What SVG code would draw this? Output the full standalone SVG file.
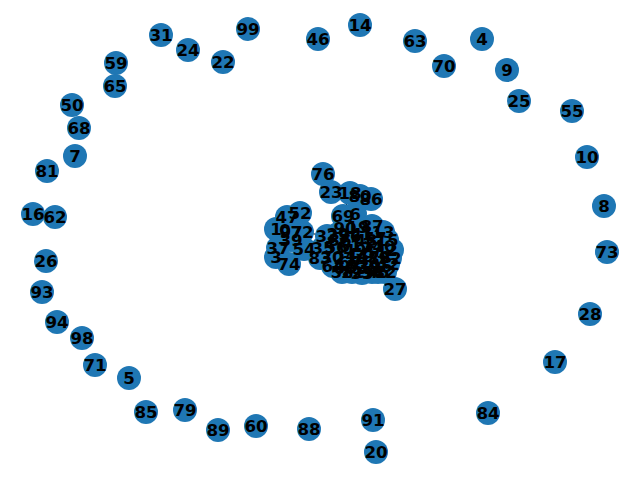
<svg xmlns="http://www.w3.org/2000/svg" width="640" height="478" viewBox="0 0 640 478">
<style>
.n circle{fill:#1f77b4}
.lab text{font-family:"DejaVu Sans",sans-serif;font-weight:bold;font-size:16.67px;fill:#000;text-anchor:middle}
.e line{stroke:#000;stroke-width:1}
</style>
<rect width="640" height="478" fill="#fff"/>
<g id="connectors" class="e">
<line x1="323" y1="174" x2="331" y2="192"/>
<line x1="331" y1="192" x2="350" y2="193"/>
<line x1="350" y1="193" x2="371" y2="199"/>
<line x1="350" y1="193" x2="343" y2="216"/>
<line x1="343" y1="216" x2="355" y2="214"/>
<line x1="343" y1="216" x2="345" y2="228"/>
<line x1="302" y1="232" x2="327" y2="236"/>
<line x1="304" y1="249" x2="323" y2="248"/>
<line x1="395" y1="289" x2="380" y2="272"/>
<line x1="287" y1="217" x2="300" y2="213"/>
<line x1="278" y1="248" x2="289" y2="264"/>
</g>
<g id="nodes" class="n">
<g id="n14"><circle cx="360" cy="25" r="12"/></g>
<g id="n99"><circle cx="248" cy="29" r="12"/></g>
<g id="n46"><circle cx="318" cy="39" r="12"/></g>
<g id="n63"><circle cx="415" cy="41" r="12"/></g>
<g id="n4"><circle cx="482" cy="39" r="12"/></g>
<g id="n31"><circle cx="161" cy="35" r="12"/></g>
<g id="n24"><circle cx="188" cy="50" r="12"/></g>
<g id="n22"><circle cx="223" cy="62" r="12"/></g>
<g id="n70"><circle cx="444" cy="66" r="12"/></g>
<g id="n9"><circle cx="507" cy="70" r="12"/></g>
<g id="n59"><circle cx="116" cy="63" r="12"/></g>
<g id="n65"><circle cx="115" cy="86" r="12"/></g>
<g id="n25"><circle cx="519" cy="101" r="12"/></g>
<g id="n55"><circle cx="572" cy="111" r="12"/></g>
<g id="n50"><circle cx="72" cy="105" r="12"/></g>
<g id="n68"><circle cx="79" cy="128" r="12"/></g>
<g id="n7"><circle cx="75" cy="156" r="12"/></g>
<g id="n10"><circle cx="587" cy="157" r="12"/></g>
<g id="n81"><circle cx="47" cy="171" r="12"/></g>
<g id="n16"><circle cx="33" cy="214" r="12"/></g>
<g id="n62"><circle cx="55" cy="217" r="12"/></g>
<g id="n8"><circle cx="604" cy="206" r="12"/></g>
<g id="n73"><circle cx="607" cy="252" r="12"/></g>
<g id="n26"><circle cx="46" cy="261" r="12"/></g>
<g id="n93"><circle cx="42" cy="292" r="12"/></g>
<g id="n28"><circle cx="590" cy="314" r="12"/></g>
<g id="n94"><circle cx="57" cy="322" r="12"/></g>
<g id="n98"><circle cx="82" cy="338" r="12"/></g>
<g id="n17"><circle cx="555" cy="362" r="12"/></g>
<g id="n71"><circle cx="95" cy="365" r="12"/></g>
<g id="n5"><circle cx="129" cy="378" r="12"/></g>
<g id="n85"><circle cx="146" cy="412" r="12"/></g>
<g id="n79"><circle cx="185" cy="410" r="12"/></g>
<g id="n84"><circle cx="488" cy="413" r="12"/></g>
<g id="n89"><circle cx="218" cy="430" r="12"/></g>
<g id="n60"><circle cx="256" cy="426" r="12"/></g>
<g id="n88"><circle cx="309" cy="429" r="12"/></g>
<g id="n91"><circle cx="373" cy="420" r="12"/></g>
<g id="n20"><circle cx="376" cy="452" r="12"/></g>
<g id="n27"><circle cx="395" cy="289" r="12"/></g>
<g id="n76"><circle cx="323" cy="174" r="12"/></g>
<g id="n23"><circle cx="331" cy="192" r="12"/></g>
<g id="n18"><circle cx="350" cy="193" r="12"/></g>
<g id="n80"><circle cx="360" cy="196" r="12"/></g>
<g id="n86"><circle cx="371" cy="199" r="12"/></g>
<g id="n69"><circle cx="343" cy="216" r="12"/></g>
<g id="n6"><circle cx="355" cy="214" r="12"/></g>
<g id="n47"><circle cx="287" cy="217" r="12"/></g>
<g id="n52"><circle cx="300" cy="213" r="12"/></g>
<g id="n1"><circle cx="276" cy="229" r="12"/></g>
<g id="n0"><circle cx="285" cy="230" r="12"/></g>
<g id="n97"><circle cx="291" cy="232" r="12"/></g>
<g id="n72"><circle cx="302" cy="232" r="12"/></g>
<g id="n39"><circle cx="291" cy="240" r="12"/></g>
<g id="n37"><circle cx="278" cy="248" r="12"/></g>
<g id="n54"><circle cx="304" cy="249" r="12"/></g>
<g id="n3"><circle cx="276" cy="257" r="12"/></g>
<g id="n74"><circle cx="289" cy="264" r="12"/></g>
<g id="n90"><circle cx="345" cy="228" r="12"/></g>
<g id="n19"><circle cx="358" cy="227" r="12"/></g>
<g id="n87"><circle cx="372" cy="226" r="12"/></g>
<g id="n13"><circle cx="383" cy="232" r="12"/></g>
<g id="n32"><circle cx="327" cy="236" r="12"/></g>
<g id="n29"><circle cx="338" cy="234" r="12"/></g>
<g id="n96"><circle cx="350" cy="236" r="12"/></g>
<g id="n41"><circle cx="362" cy="234" r="12"/></g>
<g id="n57"><circle cx="375" cy="238" r="12"/></g>
<g id="n15"><circle cx="387" cy="240" r="12"/></g>
<g id="n36"><circle cx="340" cy="240" r="12"/></g>
<g id="n43"><circle cx="366" cy="240" r="12"/></g>
<g id="n35"><circle cx="323" cy="248" r="12"/></g>
<g id="n56"><circle cx="336" cy="247" r="12"/></g>
<g id="n61"><circle cx="350" cy="246" r="12"/></g>
<g id="n11"><circle cx="362" cy="244" r="12"/></g>
<g id="n77"><circle cx="372" cy="248" r="12"/></g>
<g id="n40"><circle cx="384" cy="246" r="12"/></g>
<g id="n2"><circle cx="392" cy="250" r="12"/></g>
<g id="n49"><circle cx="355" cy="250" r="12"/></g>
<g id="n51"><circle cx="376" cy="252" r="12"/></g>
<g id="n83"><circle cx="320" cy="258" r="12"/></g>
<g id="n30"><circle cx="332" cy="257" r="12"/></g>
<g id="n21"><circle cx="345" cy="258" r="12"/></g>
<g id="n44"><circle cx="357" cy="255" r="12"/></g>
<g id="n48"><circle cx="368" cy="258" r="12"/></g>
<g id="n78"><circle cx="380" cy="257" r="12"/></g>
<g id="n92"><circle cx="390" cy="258" r="12"/></g>
<g id="n67"><circle cx="350" cy="262" r="12"/></g>
<g id="n75"><circle cx="363" cy="262" r="12"/></g>
<g id="n64"><circle cx="333" cy="266" r="12"/></g>
<g id="n66"><circle cx="345" cy="268" r="12"/></g>
<g id="n53"><circle cx="358" cy="266" r="12"/></g>
<g id="n38"><circle cx="368" cy="268" r="12"/></g>
<g id="n95"><circle cx="381" cy="266" r="12"/></g>
<g id="n42"><circle cx="388" cy="264" r="12"/></g>
<g id="n82"><circle cx="385" cy="272" r="12"/></g>
<g id="n58"><circle cx="342" cy="272" r="12"/></g>
<g id="n12"><circle cx="352" cy="272" r="12"/></g>
<g id="n33"><circle cx="362" cy="273" r="12"/></g>
<g id="n34"><circle cx="372" cy="272" r="12"/></g>
<g id="n45"><circle cx="378" cy="272" r="12"/></g>
</g>
<g id="labels" class="lab">
<text x="360" y="31">14</text>
<text x="248" y="35">99</text>
<text x="318" y="45">46</text>
<text x="415" y="47">63</text>
<text x="482" y="45">4</text>
<text x="161" y="41">31</text>
<text x="188" y="56">24</text>
<text x="223" y="68">22</text>
<text x="444" y="72">70</text>
<text x="507" y="76">9</text>
<text x="116" y="69">59</text>
<text x="115" y="92">65</text>
<text x="519" y="107">25</text>
<text x="572" y="117">55</text>
<text x="72" y="111">50</text>
<text x="79" y="134">68</text>
<text x="75" y="162">7</text>
<text x="587" y="163">10</text>
<text x="47" y="177">81</text>
<text x="33" y="220">16</text>
<text x="55" y="223">62</text>
<text x="604" y="212">8</text>
<text x="607" y="258">73</text>
<text x="46" y="267">26</text>
<text x="42" y="298">93</text>
<text x="590" y="320">28</text>
<text x="57" y="328">94</text>
<text x="82" y="344">98</text>
<text x="555" y="368">17</text>
<text x="95" y="371">71</text>
<text x="129" y="384">5</text>
<text x="146" y="418">85</text>
<text x="185" y="416">79</text>
<text x="488" y="419">84</text>
<text x="218" y="436">89</text>
<text x="256" y="432">60</text>
<text x="309" y="435">88</text>
<text x="373" y="426">91</text>
<text x="376" y="458">20</text>
<text x="395" y="295">27</text>
<text x="323" y="180">76</text>
<text x="331" y="198">23</text>
<text x="350" y="199">18</text>
<text x="360" y="202">80</text>
<text x="371" y="205">86</text>
<text x="343" y="222">69</text>
<text x="355" y="220">6</text>
<text x="287" y="223">47</text>
<text x="300" y="219">52</text>
<text x="276" y="235">1</text>
<text x="285" y="236">0</text>
<text x="291" y="238">97</text>
<text x="302" y="238">72</text>
<text x="291" y="246">39</text>
<text x="278" y="254">37</text>
<text x="304" y="255">54</text>
<text x="276" y="263">3</text>
<text x="289" y="270">74</text>
<text x="345" y="234">90</text>
<text x="358" y="233">19</text>
<text x="372" y="232">87</text>
<text x="383" y="238">13</text>
<text x="327" y="242">32</text>
<text x="338" y="240">29</text>
<text x="350" y="242">96</text>
<text x="362" y="240">41</text>
<text x="375" y="244">57</text>
<text x="387" y="246">15</text>
<text x="340" y="246">36</text>
<text x="366" y="246">43</text>
<text x="323" y="254">35</text>
<text x="336" y="253">56</text>
<text x="350" y="252">61</text>
<text x="362" y="250">11</text>
<text x="372" y="254">77</text>
<text x="384" y="252">40</text>
<text x="392" y="256">2</text>
<text x="355" y="256">49</text>
<text x="376" y="258">51</text>
<text x="320" y="264">83</text>
<text x="332" y="263">30</text>
<text x="345" y="264">21</text>
<text x="357" y="261">44</text>
<text x="368" y="264">48</text>
<text x="380" y="263">78</text>
<text x="390" y="264">92</text>
<text x="350" y="268">67</text>
<text x="363" y="268">75</text>
<text x="333" y="272">64</text>
<text x="345" y="274">66</text>
<text x="358" y="272">53</text>
<text x="368" y="274">38</text>
<text x="381" y="272">95</text>
<text x="388" y="270">42</text>
<text x="385" y="278">82</text>
<text x="342" y="278">58</text>
<text x="352" y="278">12</text>
<text x="362" y="279">33</text>
<text x="372" y="278">34</text>
<text x="378" y="278">45</text>
</g>
</svg>
